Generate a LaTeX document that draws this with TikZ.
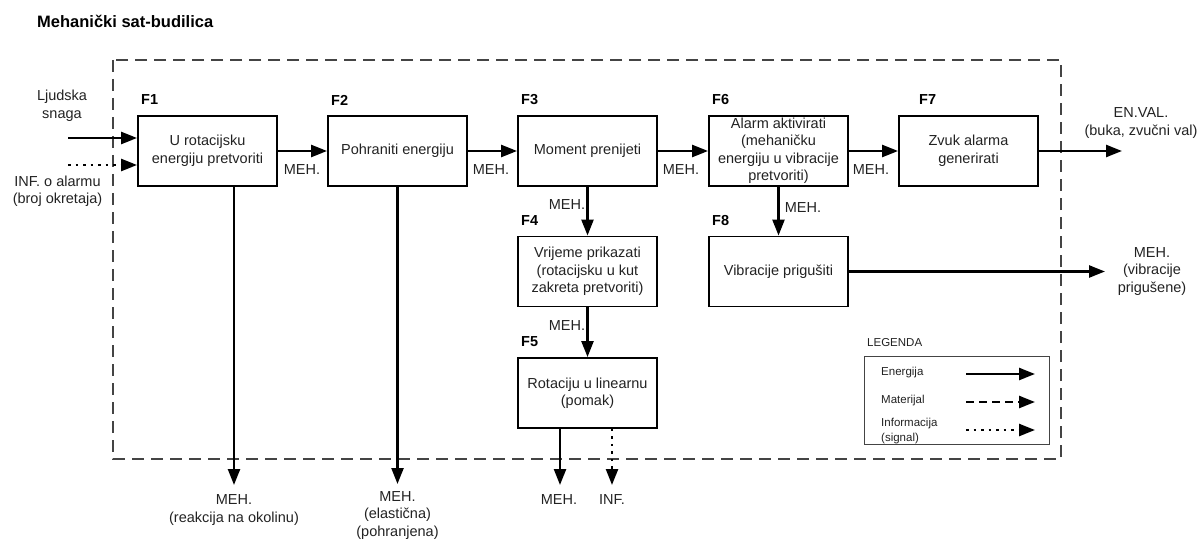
\documentclass[tikz,border=0pt]{standalone}
\usepackage{fontspec}
\setmainfont{Liberation Sans}
\usetikzlibrary{arrows.meta}
\definecolor{txt}{HTML}{222222}
\definecolor{frame}{HTML}{444444}
\tikzset{
  fbox/.style={draw=black, line width=1.9pt, minimum width=139pt, minimum height=70pt, inner sep=0pt, align=center, text=txt, font=\fontsize{14.5}{17.5}\selectfont},
  flabel/.style={anchor=west, inner sep=0pt, font=\bfseries\fontsize{14.5}{17}\selectfont},
  lbl/.style={inner sep=0pt, align=center, text=txt, font=\fontsize{14.5}{17.5}\selectfont},
  lgtxt/.style={inner sep=0pt, anchor=west, align=left, text=txt, font=\fontsize{11.5}{15}\selectfont},
  energy/.style={line width=2.4pt, -{Triangle[length=16pt,width=12pt]}},
  material/.style={line width=2.4pt, dash pattern=on 8pt off 5pt, -{Triangle[length=16pt,width=12pt]}},
  info/.style={line width=2.4pt, dash pattern=on 2.5pt off 5pt, -{Triangle[length=16pt,width=12pt]}},
  sysframe/.style={draw=frame, line width=1.4pt, dash pattern=on 12pt off 7pt},
}
\begin{document}
\begin{tikzpicture}[x=1pt,y=-1pt]
\useasboundingbox (0,0) rectangle (1204,540);

% title
\node[anchor=west, inner sep=0pt, font=\bfseries\fontsize{16.5}{20}\selectfont] (title) at (37,21) {Mehanički sat-budilica};

% system frame
\draw[sysframe] (113,60) rectangle (1061,459);

% function boxes
\node[fbox] (F1) at (207.5,151) {U rotacijsku\\energiju pretvoriti};
\node[fbox] (F2) at (397.5,151) {Pohraniti energiju};
\node[fbox] (F3) at (587.5,151) {Moment prenijeti};
\node[fbox] (F6) at (778.5,151) {Alarm aktivirati\\(mehaničku\\energiju u vibracije\\pretvoriti)};
\node[fbox] (F7) at (968.5,151) {Zvuk alarma\\generirati};
\node[fbox] (F4) at (587.5,271.5) {Vrijeme prikazati\\(rotacijsku u kut\\zakreta pretvoriti)};
\node[fbox] (F8) at (778.5,271.5) {Vibracije prigušiti};
\node[fbox] (F5) at (587.5,393) {Rotaciju u linearnu\\(pomak)};

% function labels
\node[flabel] (L1) at (141,100) {F1};
\node[flabel] (L2) at (331,100) {F2};
\node[flabel] (L3) at (521,100) {F3};
\node[flabel] (L6) at (712,100) {F6};
\node[flabel] (L7) at (919,100) {F7};
\node[flabel] (L4) at (521,221) {F4};
\node[flabel] (L8) at (712,221) {F8};
\node[flabel] (L5) at (521,342) {F5};

% inputs
\coordinate (in1) at (68,138);
\coordinate (in2) at (68,165);
\draw[energy] (in1) -- (in1 -| F1.west);
\draw[info] (in2) -- (in2 -| F1.west);
\node[lbl] (tin1) at (62,106) {Ljudska\\snaga};
\node[lbl] (tin2) at (57.5,191.5) {INF. o alarmu\\(broj okretaja)};

% main chain
\draw[energy] (F1.east) -- (F2.west);
\draw[energy] (F2.east) -- (F3.west);
\draw[energy] (F3.east) -- (F6.west);
\draw[energy] (F6.east) -- (F7.west);
\node[lbl] (m12) at (302,170) {MEH.};
\node[lbl] (m23) at (491,170) {MEH.};
\node[lbl] (m36) at (681,170) {MEH.};
\node[lbl] (m67) at (871,170) {MEH.};

% vertical chain
\draw[energy] (F3.south) -- (F4.north);
\draw[energy] (F4.south) -- (F5.north);
\draw[energy] (F6.south) -- (F8.north);
\node[lbl] (m34) at (567,205) {MEH.};
\node[lbl] (m45) at (567,326) {MEH.};
\node[lbl] (m68) at (803,208) {MEH.};

% outputs right
\coordinate (o7) at (1122,151);
\coordinate (o8) at (1105,271.5);
\draw[energy] (F7.east) -- (o7);
\draw[energy] (F8.east) -- (o8);
\node[lbl] (to7) at (1141,123) {EN.VAL.\\(buka, zvučni val)};
\node[lbl] (to8) at (1152,271.5) {MEH.\\(vibracije\\prigušene)};

% outputs bottom
\coordinate (o1) at (234,485);
\coordinate (o2) at (397.5,484);
\coordinate (o5a) at (560,485);
\coordinate (o5b) at (612,485);
\draw[energy] (o1 |- F1.south) -- (o1);
\draw[energy] (F2.south) -- (o2);
\draw[energy] (o5a |- F5.south) -- (o5a);
\draw[info] (o5b |- F5.south) -- (o5b);
\node[lbl] (to1) at (234,510) {MEH.\\(reakcija na okolinu)};
\node[lbl] (to2) at (397.5,515.5) {MEH.\\(elastična)\\(pohranjena)};
\node[lbl] (to5a) at (559,500) {MEH.};
\node[lbl] (to5b) at (612,500) {INF.};

% legend
\node[lgtxt] (lgt) at (867,343) {LEGENDA};
\draw[draw=frame, line width=1pt] (864,356) rectangle (1049,444);
\node[lgtxt] (lg1) at (881,373) {Energija};
\node[lgtxt] (lg2) at (881,401) {Materijal};
\node[lgtxt] (lg3) at (881,431) {Informacija\\(signal)};
\coordinate (a1s) at (966,374);
\coordinate (a1e) at (1035,374);
\coordinate (a2s) at (966,402);
\coordinate (a2e) at (1035,402);
\coordinate (a3s) at (966,430);
\coordinate (a3e) at (1035,430);
\draw[energy] (a1s) -- (a1e);
\draw[material] (a2s) -- (a2e);
\draw[info] (a3s) -- (a3e);
\end{tikzpicture}
\end{document}
